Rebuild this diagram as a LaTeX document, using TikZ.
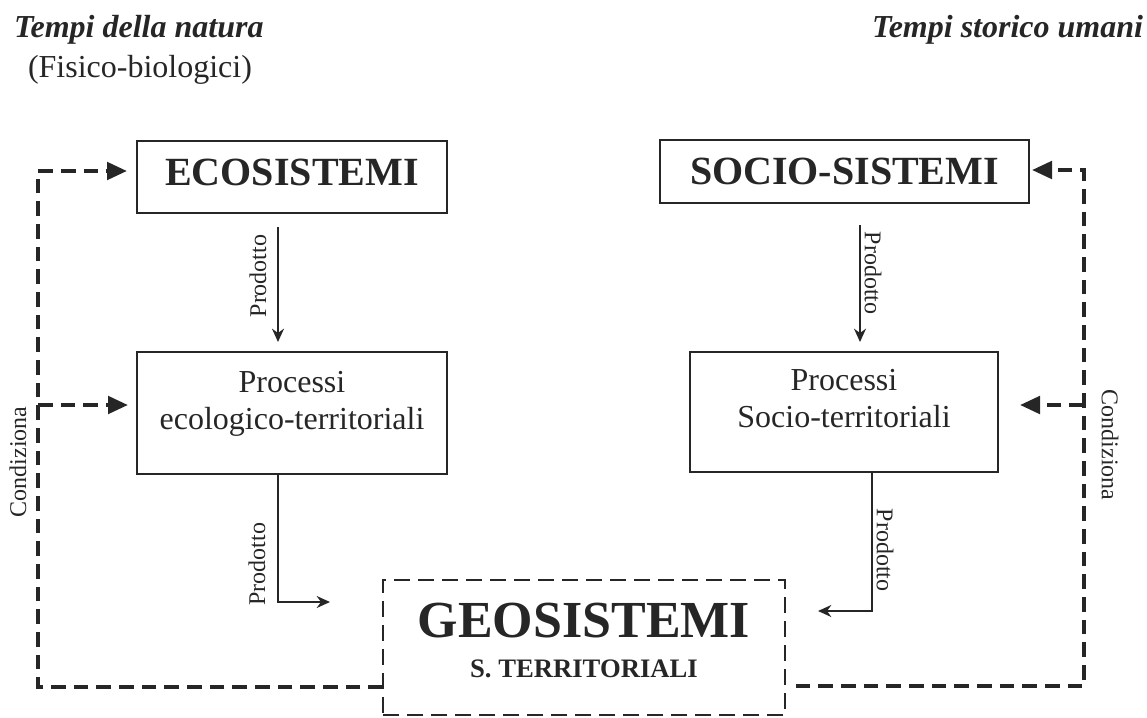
\documentclass[tikz,border=0pt]{standalone}
\usepackage{fontspec}
\setmainfont{Liberation Serif}
\usetikzlibrary{arrows.meta}
\definecolor{ink}{HTML}{262626}
\begin{document}
\begin{tikzpicture}[x=0.75pt,y=-0.75pt,
  every node/.style={text=ink, inner sep=0pt, outer sep=0pt},
  frame/.style={draw=ink, line width=2.2pt, rectangle},
  geoframe/.style={draw=ink, line width=2.2pt, rectangle, dash pattern=on 12pt off 6pt},
  flow/.style={draw=ink, line width=1.1pt, -{Stealth[length=10pt,width=9pt]}},
  condline/.style={draw=ink, line width=3pt, dash pattern=on 11pt off 6pt},
  cond/.style={condline, -{Triangle[length=15pt,width=13pt]}},
  heading/.style={font=\fontsize{24}{28}\selectfont\bfseries\itshape},
  plain/.style={font=\fontsize{24}{28}\selectfont},
  sysname/.style={font=\fontsize{30}{36}\selectfont\bfseries},
  lbl/.style={font=\fontsize{18}{21}\selectfont},
]
\useasboundingbox (0,0) rectangle (1147,718);

% headings
\node[heading, anchor=base west] (hl) at (14,37) {Tempi della natura};
\node[plain, anchor=base west] (hs) at (28,77) {(Fisico-biologici)};
\node[heading, anchor=base east] (hr) at (1143,37) {Tempi storico umani};

% system boxes
\node[frame, sysname, minimum width=232.5pt, minimum height=54pt, text depth=7.5pt] (eco) at (292,177) {ECOSISTEMI};
\node[frame, sysname, minimum width=276.75pt, minimum height=47.25pt] (socio) at (844.5,171.5) {SOCIO-SISTEMI};

% process boxes
\node[frame, minimum width=232.5pt, minimum height=91.5pt] (procL) at (292,413) {};
\node[plain, anchor=base] (procLa) at (292,392) {Processi};
\node[plain, anchor=base] (procLb) at (292,429) {ecologico-territoriali};
\node[frame, minimum width=231pt, minimum height=90pt] (procR) at (844,412) {};
\node[plain, anchor=base] (procRa) at (844,390) {Processi};
\node[plain, anchor=base] (procRb) at (844,427) {Socio-territoriali};

% geosystems
\node[geoframe, minimum width=301.5pt, minimum height=101.25pt] (geo) at (584,647.5) {};
\node[font=\fontsize{39}{44}\selectfont\bfseries, anchor=base] (geoa) at (584,637) {GEOSISTEMI};
\node[font=\fontsize{20}{24}\selectfont\bfseries, anchor=base] (geob) at (584,677) {S. TERRITORIALI};

% "Prodotto" flows
\coordinate (al) at (278,0);
\coordinate (ar) at (860,0);
\coordinate (bl) at (278,602);
\coordinate (br) at (872,611);
\draw[flow, shorten <=10.5pt, shorten >=7.5pt] (eco.south -| al) -- (procL.north -| al);
\draw[flow, shorten <=16.5pt, shorten >=7.5pt] (socio.south -| ar) -- (procR.north -| ar);
\draw[flow, shorten >=39.75pt] (procL.south -| bl) -- (bl) -- (geo.west |- bl);
\draw[flow, shorten >=24.75pt] (procR.south -| br) -- (br) -- (geo.east |- br);
\node[lbl, rotate=90] (p1) at (258,276) {Prodotto};
\node[lbl, rotate=-90] (p2) at (873,273) {Prodotto};
\node[lbl, rotate=90] (p3) at (257,564) {Prodotto};
\node[lbl, rotate=-90] (p4) at (885,550) {Prodotto};

% "Condiziona" feedback loops
\coordinate (lb) at (38,687);
\coordinate (lt) at (38,171);
\coordinate (lm) at (38,405);
\coordinate (rb) at (1084,686);
\coordinate (rt) at (1084,170);
\coordinate (rm) at (1084,405);
\draw[cond, shorten >=7.5pt] (geo.west |- lb) -- (lb) -- (lt) -- (eco.west |- lt);
\draw[cond, shorten >=6.75pt] (lm) -- (procL.west |- lm);
\draw[cond, shorten <=8pt, shorten >=2.25pt] (geo.east |- rb) -- (rb) -- (rt) -- (socio.east |- rt);
\draw[cond, shorten >=16.5pt] (rm) -- (procR.east |- rm);
\node[lbl, rotate=90] (c1) at (18,462) {Condiziona};
\node[lbl, rotate=-90] (c2) at (1110,445) {Condiziona};
\end{tikzpicture}
\end{document}
